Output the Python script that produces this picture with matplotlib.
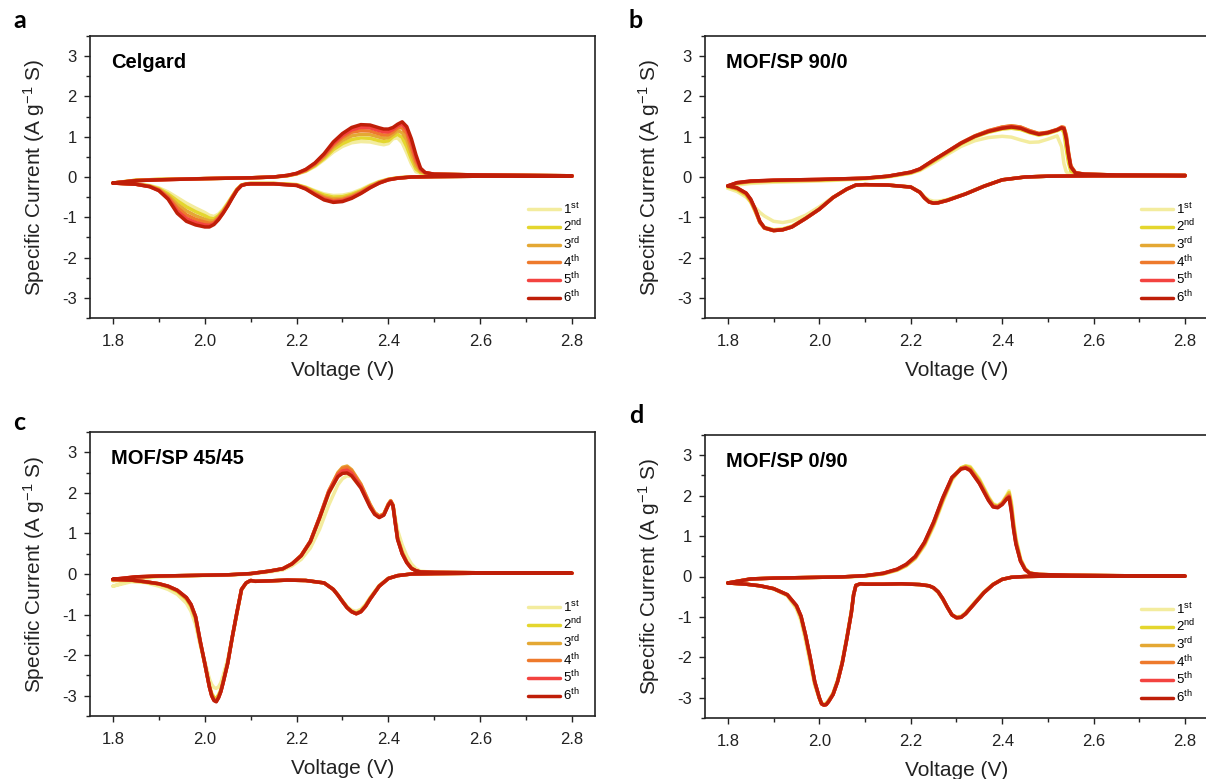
import matplotlib
matplotlib.use("Agg")
import matplotlib.pyplot as plt
from matplotlib.ticker import MultipleLocator, FixedLocator

plt.rcParams['font.family'] = ['Liberation Sans', 'DejaVu Sans']
plt.rcParams['mathtext.fontset'] = 'custom'
plt.rcParams['mathtext.rm'] = 'Liberation Sans'
plt.rcParams['mathtext.it'] = 'Liberation Sans:italic'
plt.rcParams['mathtext.bf'] = 'Liberation Sans:bold'
plt.rcParams['axes.unicode_minus'] = False

# ---------------- data ----------------
CYCLE_LABELS = ['1$^{\\mathregular{st}}$', '2$^{\\mathregular{nd}}$', '3$^{\\mathregular{rd}}$',
                '4$^{\\mathregular{th}}$', '5$^{\\mathregular{th}}$', '6$^{\\mathregular{th}}$']
CYCLE_COLORS = ['#F3EC9E', '#E4D62E', '#E4A834', '#EE7A2C', '#F34340', '#BF1E08']
PANEL_TITLES = ['Celgard', 'MOF/SP 90/0', 'MOF/SP 45/45', 'MOF/SP 0/90']
PANEL_LETTERS = ['a', 'b', 'c', 'd']
X_TICKS = [1.8, 2.0, 2.2, 2.4, 2.6, 2.8]
Y_TICKS = [-3, -2, -1, 0, 1, 2, 3]

# Panel a (Celgard)
A_V_UP = [1.80, 1.85, 1.90, 2.00, 2.10, 2.15, 2.18, 2.20, 2.22, 2.24, 2.26, 2.28, 2.30, 2.32, 2.34, 2.36,
          2.38, 2.39, 2.40, 2.41, 2.42, 2.43, 2.44, 2.45, 2.46, 2.47, 2.48, 2.50, 2.60, 2.70, 2.80]
A_UP_1 = [-0.15, -0.08, -0.06, -0.04, -0.02, 0.00, 0.03, 0.07, 0.14, 0.26, 0.43, 0.62, 0.76, 0.85, 0.88, 0.87,
          0.82, 0.80, 0.83, 0.95, 0.97, 0.85, 0.60, 0.33, 0.13, 0.09, 0.08, 0.07, 0.05, 0.04, 0.03]
A_UP_2 = [-0.15, -0.08, -0.06, -0.04, -0.02, 0.00, 0.03, 0.08, 0.15, 0.28, 0.46, 0.68, 0.83, 0.93, 0.97, 0.96,
          0.90, 0.88, 0.90, 1.00, 1.06, 0.98, 0.75, 0.45, 0.20, 0.11, 0.09, 0.07, 0.05, 0.04, 0.03]
A_UP_3 = [-0.15, -0.08, -0.06, -0.04, -0.02, 0.00, 0.03, 0.08, 0.16, 0.30, 0.50, 0.74, 0.91, 1.02, 1.06, 1.05,
          0.99, 0.96, 0.98, 1.06, 1.15, 1.10, 0.92, 0.58, 0.28, 0.14, 0.10, 0.07, 0.05, 0.04, 0.03]
A_UP_4 = [-0.15, -0.09, -0.07, -0.04, -0.02, 0.00, 0.04, 0.08, 0.17, 0.32, 0.53, 0.79, 0.98, 1.11, 1.15, 1.14,
          1.07, 1.04, 1.05, 1.12, 1.22, 1.22, 1.07, 0.72, 0.38, 0.17, 0.10, 0.07, 0.05, 0.04, 0.03]
A_UP_5 = [-0.15, -0.09, -0.07, -0.04, -0.02, 0.00, 0.04, 0.09, 0.18, 0.34, 0.56, 0.83, 1.03, 1.17, 1.23, 1.22,
          1.15, 1.12, 1.12, 1.18, 1.27, 1.31, 1.18, 0.85, 0.47, 0.20, 0.11, 0.07, 0.05, 0.04, 0.03]
A_UP_6 = [-0.15, -0.09, -0.07, -0.04, -0.02, 0.00, 0.04, 0.09, 0.19, 0.35, 0.58, 0.87, 1.08, 1.23, 1.30, 1.29,
          1.22, 1.19, 1.19, 1.23, 1.31, 1.37, 1.25, 0.95, 0.55, 0.22, 0.11, 0.07, 0.05, 0.04, 0.03]
A_V_DN = [2.80, 2.60, 2.50, 2.45, 2.42, 2.40, 2.38, 2.36, 2.34, 2.32, 2.30, 2.28, 2.26, 2.24, 2.22, 2.20,
          2.15, 2.10, 2.09, 2.08, 2.07, 2.06, 2.05, 2.04, 2.03, 2.02, 2.01, 2.00, 1.98, 1.96, 1.94, 1.92,
          1.90, 1.88, 1.85, 1.80]
A_DN_1 = [0.02, 0.02, 0.01, 0.00, -0.02, -0.05, -0.11, -0.20, -0.31, -0.40, -0.45, -0.46, -0.42, -0.34, -0.25, -0.19,
          -0.16, -0.16, -0.17, -0.20, -0.30, -0.47, -0.64, -0.80, -0.92, -0.98, -0.95, -0.88, -0.77, -0.65, -0.51, -0.37,
          -0.27, -0.21, -0.17, -0.15]
A_DN_2 = [0.02, 0.02, 0.01, 0.00, -0.02, -0.06, -0.12, -0.22, -0.34, -0.43, -0.49, -0.50, -0.45, -0.36, -0.26, -0.19,
          -0.16, -0.16, -0.17, -0.20, -0.31, -0.48, -0.66, -0.83, -0.96, -1.04, -1.02, -0.96, -0.86, -0.74, -0.59, -0.42,
          -0.29, -0.22, -0.17, -0.15]
A_DN_3 = [0.02, 0.02, 0.01, 0.00, -0.02, -0.06, -0.13, -0.23, -0.36, -0.46, -0.53, -0.54, -0.49, -0.39, -0.27, -0.20,
          -0.16, -0.16, -0.17, -0.20, -0.31, -0.49, -0.68, -0.85, -0.99, -1.09, -1.09, -1.05, -0.96, -0.84, -0.68, -0.46,
          -0.31, -0.23, -0.18, -0.15]
A_DN_4 = [0.02, 0.02, 0.01, 0.00, -0.03, -0.06, -0.14, -0.25, -0.38, -0.49, -0.56, -0.58, -0.52, -0.41, -0.28, -0.20,
          -0.17, -0.17, -0.18, -0.21, -0.32, -0.50, -0.70, -0.87, -1.02, -1.13, -1.15, -1.12, -1.05, -0.94, -0.76, -0.50,
          -0.32, -0.23, -0.18, -0.15]
A_DN_5 = [0.02, 0.02, 0.01, 0.00, -0.03, -0.07, -0.15, -0.26, -0.40, -0.51, -0.59, -0.61, -0.55, -0.43, -0.29, -0.21,
          -0.17, -0.17, -0.18, -0.21, -0.33, -0.51, -0.71, -0.89, -1.04, -1.16, -1.20, -1.19, -1.13, -1.03, -0.84, -0.53,
          -0.33, -0.24, -0.18, -0.15]
A_DN_6 = [0.02, 0.02, 0.01, 0.00, -0.03, -0.07, -0.15, -0.27, -0.41, -0.53, -0.61, -0.63, -0.57, -0.44, -0.30, -0.21,
          -0.17, -0.17, -0.18, -0.21, -0.33, -0.52, -0.72, -0.90, -1.06, -1.18, -1.24, -1.24, -1.19, -1.10, -0.90, -0.55,
          -0.34, -0.24, -0.18, -0.15]

# Panel b (MOF/SP 90/0)
B_V_UP = [1.80, 1.82, 1.85, 1.90, 2.00, 2.10, 2.15, 2.20, 2.22, 2.25, 2.28, 2.31, 2.34, 2.37, 2.40,
          2.42, 2.44, 2.46, 2.48, 2.50, 2.52, 2.53, 2.535, 2.54, 2.545, 2.55, 2.56, 2.58, 2.65, 2.80]
B_UP_1 = [-0.28, -0.20, -0.16, -0.13, -0.10, -0.05, 0.00, 0.09, 0.16, 0.35, 0.56, 0.76, 0.90, 0.98, 1.01,
          0.99, 0.92, 0.86, 0.87, 0.94, 1.02, 0.75, 0.33, 0.13, 0.09, 0.08, 0.07, 0.06, 0.05, 0.04]
B_UP_2 = [-0.24, -0.16, -0.12, -0.10, -0.08, -0.04, 0.01, 0.10, 0.18, 0.39, 0.60, 0.82, 0.99, 1.11, 1.19,
          1.21, 1.18, 1.10, 1.04, 1.08, 1.15, 1.20, 1.10, 0.70, 0.35, 0.15, 0.09, 0.07, 0.05, 0.04]
B_UP_3 = [-0.23, -0.15, -0.11, -0.09, -0.07, -0.03, 0.02, 0.11, 0.19, 0.41, 0.62, 0.84, 1.02, 1.15, 1.24,
          1.27, 1.24, 1.15, 1.08, 1.11, 1.18, 1.24, 1.23, 1.05, 0.62, 0.28, 0.11, 0.07, 0.05, 0.04]
B_UP_4 = [-0.22, -0.15, -0.11, -0.08, -0.06, -0.03, 0.02, 0.12, 0.20, 0.42, 0.63, 0.85, 1.02, 1.15, 1.24,
          1.27, 1.24, 1.15, 1.08, 1.11, 1.18, 1.24, 1.23, 1.02, 0.60, 0.27, 0.11, 0.07, 0.05, 0.04]
B_UP_5 = [-0.22, -0.14, -0.10, -0.08, -0.06, -0.03, 0.02, 0.12, 0.20, 0.42, 0.63, 0.84, 1.01, 1.14, 1.22,
          1.25, 1.22, 1.13, 1.07, 1.10, 1.17, 1.23, 1.21, 0.98, 0.57, 0.26, 0.10, 0.07, 0.05, 0.04]
B_UP_6 = [-0.22, -0.14, -0.10, -0.08, -0.06, -0.03, 0.02, 0.12, 0.20, 0.42, 0.63, 0.84, 1.01, 1.13, 1.21,
          1.24, 1.21, 1.12, 1.06, 1.10, 1.17, 1.22, 1.20, 0.95, 0.55, 0.25, 0.10, 0.07, 0.05, 0.04]
B_V_DN = [2.80, 2.60, 2.50, 2.45, 2.40, 2.36, 2.32, 2.28, 2.26, 2.25, 2.24, 2.23, 2.22, 2.20, 2.15, 2.10,
          2.08, 2.06, 2.03, 2.00, 1.97, 1.94, 1.92, 1.90, 1.88, 1.87, 1.86, 1.85, 1.84, 1.82, 1.80]
B_DN_1 = [0.03, 0.03, 0.02, 0.00, -0.07, -0.22, -0.41, -0.56, -0.60, -0.60, -0.57, -0.49, -0.37, -0.24, -0.20, -0.19,
          -0.21, -0.31, -0.50, -0.74, -0.95, -1.09, -1.13, -1.10, -0.97, -0.88, -0.76, -0.62, -0.50, -0.36, -0.28]
B_DN_2 = [0.03, 0.03, 0.02, 0.00, -0.07, -0.23, -0.42, -0.57, -0.63, -0.64, -0.61, -0.51, -0.38, -0.25, -0.20, -0.19,
          -0.20, -0.30, -0.51, -0.79, -1.02, -1.22, -1.29, -1.31, -1.25, -1.12, -0.86, -0.62, -0.45, -0.31, -0.24]
B_DN_3 = [0.03, 0.03, 0.02, 0.00, -0.07, -0.23, -0.42, -0.58, -0.64, -0.65, -0.62, -0.52, -0.38, -0.25, -0.20, -0.19,
          -0.20, -0.30, -0.51, -0.80, -1.03, -1.24, -1.31, -1.33, -1.27, -1.13, -0.84, -0.58, -0.42, -0.29, -0.23]
B_DN_4 = [0.03, 0.03, 0.02, 0.00, -0.07, -0.23, -0.42, -0.58, -0.64, -0.65, -0.62, -0.52, -0.38, -0.25, -0.20, -0.19,
          -0.20, -0.30, -0.51, -0.80, -1.03, -1.24, -1.31, -1.33, -1.27, -1.12, -0.82, -0.57, -0.41, -0.28, -0.22]
B_DN_5 = [0.03, 0.03, 0.02, 0.00, -0.07, -0.23, -0.42, -0.58, -0.64, -0.65, -0.62, -0.52, -0.38, -0.25, -0.20, -0.19,
          -0.20, -0.30, -0.51, -0.80, -1.03, -1.24, -1.31, -1.33, -1.26, -1.11, -0.81, -0.56, -0.40, -0.27, -0.22]
B_DN_6 = [0.03, 0.03, 0.02, 0.00, -0.07, -0.23, -0.42, -0.58, -0.64, -0.65, -0.62, -0.52, -0.38, -0.25, -0.20, -0.19,
          -0.20, -0.30, -0.51, -0.80, -1.03, -1.24, -1.31, -1.33, -1.26, -1.10, -0.80, -0.55, -0.40, -0.27, -0.22]

# Panel c (MOF/SP 45/45)
C_V_UP = [1.80, 1.85, 1.90, 2.00, 2.05, 2.10, 2.14, 2.17, 2.19, 2.21, 2.23, 2.25, 2.27, 2.29, 2.30, 2.31,
          2.32, 2.34, 2.36, 2.37, 2.38, 2.39, 2.40, 2.405, 2.41, 2.415, 2.42, 2.43, 2.44, 2.45, 2.46, 2.47,
          2.50, 2.60, 2.80]
C_UP_1 = [-0.30, -0.12, -0.07, -0.04, -0.03, 0.00, 0.05, 0.10, 0.20, 0.36, 0.64, 1.10, 1.70, 2.20, 2.35, 2.42,
          2.40, 2.14, 1.68, 1.50, 1.43, 1.48, 1.72, 1.80, 1.70, 1.38, 1.08, 0.72, 0.45, 0.25, 0.13, 0.07,
          0.04, 0.03, 0.02]
C_UP_2 = [-0.16, -0.08, -0.05, -0.03, -0.02, 0.01, 0.07, 0.13, 0.25, 0.45, 0.79, 1.35, 1.98, 2.42, 2.55, 2.58,
          2.50, 2.18, 1.70, 1.50, 1.42, 1.47, 1.72, 1.80, 1.70, 1.30, 0.90, 0.55, 0.30, 0.15, 0.08, 0.05,
          0.04, 0.03, 0.02]
C_UP_3 = [-0.15, -0.08, -0.05, -0.03, -0.02, 0.01, 0.07, 0.13, 0.25, 0.46, 0.81, 1.40, 2.05, 2.50, 2.63, 2.66,
          2.57, 2.22, 1.72, 1.52, 1.43, 1.48, 1.73, 1.81, 1.70, 1.28, 0.88, 0.52, 0.29, 0.14, 0.08, 0.05,
          0.04, 0.03, 0.02]
C_UP_4 = [-0.14, -0.07, -0.05, -0.03, -0.02, 0.01, 0.07, 0.13, 0.25, 0.46, 0.81, 1.40, 2.04, 2.48, 2.60, 2.63,
          2.54, 2.20, 1.70, 1.50, 1.42, 1.47, 1.72, 1.80, 1.69, 1.27, 0.87, 0.51, 0.29, 0.14, 0.08, 0.05,
          0.04, 0.03, 0.02]
C_UP_5 = [-0.13, -0.07, -0.05, -0.03, -0.02, 0.01, 0.07, 0.13, 0.25, 0.45, 0.80, 1.39, 2.02, 2.44, 2.54, 2.56,
          2.48, 2.16, 1.67, 1.48, 1.40, 1.46, 1.71, 1.79, 1.68, 1.26, 0.86, 0.50, 0.28, 0.14, 0.08, 0.05,
          0.04, 0.03, 0.02]
C_UP_6 = [-0.13, -0.07, -0.05, -0.03, -0.02, 0.01, 0.07, 0.13, 0.25, 0.45, 0.80, 1.38, 2.00, 2.40, 2.48, 2.49,
          2.42, 2.12, 1.65, 1.47, 1.39, 1.45, 1.70, 1.78, 1.68, 1.25, 0.85, 0.50, 0.28, 0.14, 0.08, 0.05,
          0.04, 0.03, 0.02]
C_V_DN = [2.80, 2.60, 2.50, 2.45, 2.42, 2.40, 2.38, 2.36, 2.35, 2.34, 2.33, 2.32, 2.31, 2.30, 2.29, 2.28,
          2.26, 2.22, 2.18, 2.14, 2.11, 2.10, 2.09, 2.08, 2.07, 2.06, 2.05, 2.04, 2.035, 2.03, 2.025, 2.02,
          2.015, 2.01, 2.00, 1.99, 1.98, 1.97, 1.96, 1.94, 1.92, 1.90, 1.87, 1.84, 1.80]
C_DN_1 = [0.02, 0.02, 0.01, 0.00, -0.04, -0.10, -0.28, -0.58, -0.75, -0.87, -0.92, -0.89, -0.80, -0.66, -0.51, -0.38,
          -0.22, -0.16, -0.15, -0.17, -0.18, -0.16, -0.22, -0.40, -0.98, -1.55, -2.10, -2.50, -2.68, -2.78, -2.82, -2.80,
          -2.72, -2.58, -2.15, -1.75, -1.25, -0.92, -0.72, -0.50, -0.38, -0.30, -0.21, -0.19, -0.30]
C_DN_2 = [0.02, 0.02, 0.01, 0.00, -0.04, -0.11, -0.29, -0.60, -0.78, -0.91, -0.96, -0.92, -0.82, -0.67, -0.52, -0.38,
          -0.22, -0.16, -0.15, -0.17, -0.18, -0.16, -0.22, -0.39, -0.96, -1.56, -2.18, -2.64, -2.85, -2.98, -3.06, -3.04,
          -2.94, -2.75, -2.22, -1.70, -1.12, -0.80, -0.62, -0.43, -0.32, -0.25, -0.20, -0.16, -0.16]
C_DN_3 = [0.02, 0.02, 0.01, 0.00, -0.04, -0.11, -0.30, -0.61, -0.79, -0.92, -0.97, -0.93, -0.83, -0.68, -0.52, -0.38,
          -0.22, -0.16, -0.15, -0.17, -0.18, -0.16, -0.22, -0.38, -0.95, -1.55, -2.19, -2.66, -2.88, -3.02, -3.11, -3.09,
          -2.98, -2.77, -2.21, -1.67, -1.08, -0.77, -0.60, -0.41, -0.31, -0.24, -0.19, -0.15, -0.15]
C_DN_4 = [0.02, 0.02, 0.01, 0.00, -0.04, -0.11, -0.30, -0.62, -0.80, -0.93, -0.98, -0.93, -0.83, -0.68, -0.52, -0.38,
          -0.22, -0.16, -0.15, -0.17, -0.18, -0.16, -0.22, -0.38, -0.95, -1.55, -2.20, -2.67, -2.89, -3.04, -3.13, -3.10,
          -2.99, -2.78, -2.21, -1.66, -1.06, -0.76, -0.59, -0.40, -0.30, -0.24, -0.19, -0.15, -0.14]
C_DN_5 = [0.02, 0.02, 0.01, 0.00, -0.04, -0.11, -0.30, -0.62, -0.80, -0.93, -0.98, -0.93, -0.83, -0.68, -0.52, -0.38,
          -0.22, -0.16, -0.15, -0.17, -0.18, -0.16, -0.22, -0.38, -0.95, -1.55, -2.20, -2.68, -2.90, -3.05, -3.14, -3.11,
          -3.00, -2.78, -2.20, -1.65, -1.05, -0.75, -0.58, -0.40, -0.30, -0.24, -0.19, -0.15, -0.13]
C_DN_6 = [0.02, 0.02, 0.01, 0.00, -0.04, -0.11, -0.30, -0.62, -0.80, -0.93, -0.98, -0.93, -0.83, -0.68, -0.52, -0.38,
          -0.22, -0.16, -0.15, -0.17, -0.18, -0.16, -0.22, -0.38, -0.95, -1.55, -2.20, -2.68, -2.90, -3.05, -3.15, -3.12,
          -3.00, -2.78, -2.20, -1.65, -1.05, -0.75, -0.58, -0.40, -0.30, -0.24, -0.19, -0.15, -0.13]

# Panel d (MOF/SP 0/90)
D_V_UP = [1.80, 1.85, 1.90, 2.00, 2.05, 2.10, 2.14, 2.17, 2.19, 2.21, 2.23, 2.25, 2.27, 2.29, 2.31, 2.32,
          2.33, 2.35, 2.37, 2.38, 2.39, 2.40, 2.41, 2.415, 2.42, 2.425, 2.43, 2.44, 2.45, 2.46, 2.48, 2.55,
          2.65, 2.80]
D_UP_1 = [-0.16, -0.06, -0.04, -0.02, -0.01, 0.01, 0.06, 0.15, 0.26, 0.44, 0.76, 1.24, 1.84, 2.38, 2.68, 2.74,
          2.72, 2.42, 1.98, 1.80, 1.76, 1.84, 2.02, 2.12, 1.85, 1.35, 0.95, 0.45, 0.20, 0.09, 0.05, 0.03,
          0.02, 0.01]
D_UP_2 = [-0.16, -0.06, -0.04, -0.02, -0.01, 0.01, 0.07, 0.16, 0.27, 0.46, 0.79, 1.28, 1.88, 2.41, 2.69, 2.73,
          2.70, 2.39, 1.95, 1.78, 1.74, 1.82, 1.99, 2.08, 1.78, 1.28, 0.90, 0.42, 0.19, 0.09, 0.05, 0.03,
          0.02, 0.01]
D_UP_3 = [-0.16, -0.06, -0.04, -0.02, -0.01, 0.02, 0.07, 0.17, 0.28, 0.47, 0.81, 1.30, 1.90, 2.43, 2.68, 2.71,
          2.67, 2.36, 1.93, 1.76, 1.73, 1.81, 1.97, 2.04, 1.72, 1.23, 0.86, 0.40, 0.18, 0.08, 0.05, 0.03,
          0.02, 0.01]
D_UP_4 = [-0.16, -0.06, -0.04, -0.02, -0.01, 0.02, 0.08, 0.17, 0.29, 0.48, 0.83, 1.32, 1.92, 2.44, 2.67, 2.70,
          2.65, 2.33, 1.91, 1.74, 1.72, 1.80, 1.95, 2.00, 1.67, 1.20, 0.83, 0.39, 0.18, 0.08, 0.05, 0.03,
          0.02, 0.01]
D_UP_5 = [-0.16, -0.06, -0.04, -0.02, -0.01, 0.02, 0.08, 0.18, 0.30, 0.49, 0.84, 1.34, 1.94, 2.45, 2.66, 2.69,
          2.63, 2.31, 1.89, 1.73, 1.71, 1.79, 1.93, 1.98, 1.63, 1.17, 0.81, 0.38, 0.17, 0.08, 0.05, 0.03,
          0.02, 0.01]
D_UP_6 = [-0.16, -0.06, -0.04, -0.02, -0.01, 0.02, 0.08, 0.18, 0.30, 0.50, 0.85, 1.35, 1.95, 2.45, 2.66, 2.68,
          2.62, 2.30, 1.88, 1.72, 1.70, 1.78, 1.92, 1.96, 1.60, 1.15, 0.80, 0.38, 0.17, 0.08, 0.05, 0.03,
          0.02, 0.01]
D_V_DN = [2.80, 2.60, 2.50, 2.45, 2.42, 2.40, 2.38, 2.36, 2.34, 2.32, 2.31, 2.30, 2.29, 2.28, 2.27, 2.26,
          2.25, 2.24, 2.22, 2.18, 2.14, 2.10, 2.09, 2.08, 2.075, 2.07, 2.06, 2.05, 2.04, 2.03, 2.02, 2.015,
          2.01, 2.005, 2.00, 1.99, 1.98, 1.97, 1.96, 1.95, 1.93, 1.90, 1.87, 1.84, 1.80]
D_DN_1 = [0.01, 0.01, 0.01, 0.00, -0.02, -0.07, -0.19, -0.38, -0.63, -0.89, -0.98, -1.00, -0.94, -0.77, -0.57, -0.40,
          -0.29, -0.23, -0.20, -0.18, -0.19, -0.19, -0.18, -0.22, -0.43, -0.85, -1.50, -2.10, -2.55, -2.88, -3.06, -3.13,
          -3.15, -3.14, -3.02, -2.70, -2.15, -1.60, -1.10, -0.80, -0.48, -0.31, -0.23, -0.19, -0.16]
D_DN_2 = [0.01, 0.01, 0.01, 0.00, -0.02, -0.07, -0.19, -0.39, -0.65, -0.91, -1.00, -1.01, -0.95, -0.76, -0.56, -0.39,
          -0.28, -0.23, -0.20, -0.18, -0.19, -0.19, -0.18, -0.22, -0.44, -0.88, -1.53, -2.13, -2.58, -2.90, -3.08, -3.15,
          -3.17, -3.15, -3.01, -2.64, -2.06, -1.50, -1.02, -0.75, -0.46, -0.30, -0.23, -0.19, -0.16]
D_DN_3 = [0.01, 0.01, 0.01, 0.00, -0.02, -0.07, -0.20, -0.40, -0.66, -0.92, -1.01, -1.02, -0.95, -0.76, -0.55, -0.38,
          -0.28, -0.23, -0.20, -0.18, -0.19, -0.19, -0.18, -0.22, -0.45, -0.89, -1.54, -2.14, -2.59, -2.91, -3.09, -3.16,
          -3.18, -3.15, -3.00, -2.62, -2.03, -1.47, -1.00, -0.73, -0.45, -0.30, -0.23, -0.19, -0.16]
D_DN_4 = [0.01, 0.01, 0.01, 0.00, -0.02, -0.07, -0.20, -0.40, -0.66, -0.92, -1.01, -1.02, -0.95, -0.76, -0.55, -0.38,
          -0.28, -0.23, -0.20, -0.18, -0.19, -0.19, -0.18, -0.22, -0.45, -0.90, -1.55, -2.15, -2.60, -2.92, -3.10, -3.17,
          -3.18, -3.15, -3.00, -2.61, -2.01, -1.46, -0.99, -0.72, -0.45, -0.30, -0.23, -0.19, -0.16]
D_DN_5 = [0.01, 0.01, 0.01, 0.00, -0.02, -0.07, -0.20, -0.40, -0.66, -0.92, -1.01, -1.02, -0.95, -0.76, -0.55, -0.38,
          -0.28, -0.23, -0.20, -0.18, -0.19, -0.19, -0.18, -0.22, -0.45, -0.90, -1.55, -2.15, -2.60, -2.92, -3.10, -3.17,
          -3.18, -3.15, -3.00, -2.60, -2.00, -1.45, -0.98, -0.72, -0.45, -0.30, -0.23, -0.19, -0.16]
D_DN_6 = [0.01, 0.01, 0.01, 0.00, -0.02, -0.07, -0.20, -0.40, -0.66, -0.92, -1.01, -1.02, -0.95, -0.76, -0.55, -0.38,
          -0.28, -0.23, -0.20, -0.18, -0.19, -0.19, -0.18, -0.22, -0.45, -0.90, -1.55, -2.15, -2.60, -2.92, -3.10, -3.17,
          -3.18, -3.15, -3.00, -2.60, -2.00, -1.45, -0.98, -0.72, -0.45, -0.30, -0.23, -0.19, -0.16]

PANELS = [
    (A_V_UP, [A_UP_1, A_UP_2, A_UP_3, A_UP_4, A_UP_5, A_UP_6], A_V_DN, [A_DN_1, A_DN_2, A_DN_3, A_DN_4, A_DN_5, A_DN_6]),
    (B_V_UP, [B_UP_1, B_UP_2, B_UP_3, B_UP_4, B_UP_5, B_UP_6], B_V_DN, [B_DN_1, B_DN_2, B_DN_3, B_DN_4, B_DN_5, B_DN_6]),
    (C_V_UP, [C_UP_1, C_UP_2, C_UP_3, C_UP_4, C_UP_5, C_UP_6], C_V_DN, [C_DN_1, C_DN_2, C_DN_3, C_DN_4, C_DN_5, C_DN_6]),
    (D_V_UP, [D_UP_1, D_UP_2, D_UP_3, D_UP_4, D_UP_5, D_UP_6], D_V_DN, [D_DN_1, D_DN_2, D_DN_3, D_DN_4, D_DN_5, D_DN_6]),
]

# ---------------- layout (pixel boxes: left, top, right, bottom) ----------------
W, H = 1206, 779
BOXES = [(90, 36, 595, 318), (705, 36, 1208, 318), (90, 432, 595, 716), (705, 435, 1208, 718)]
LETTER_POS = [(13, 28), (629, 28), (13, 430), (629, 423)]

fig = plt.figure(figsize=(W / 100, H / 100), dpi=100)
INK = '#222222'

for i, (box, (vup, ups, vdn, dns)) in enumerate(zip(BOXES, PANELS)):
    l, t, r, b = box
    ax = fig.add_axes([l / W, 1 - b / H, (r - l) / W, (b - t) / H])
    handles = []
    for k in range(6):
        x = list(vup) + list(vdn)
        y = list(ups[k]) + list(dns[k])
        ln, = ax.plot(x, y, color=CYCLE_COLORS[k], lw=2.5, solid_joinstyle='round',
                      solid_capstyle='round', zorder=2 + k, label=CYCLE_LABELS[k])
        handles.append(ln)
    ax.set_xlim(1.75, 2.85)
    ax.set_ylim(-3.5, 3.5)
    ax.xaxis.set_major_locator(FixedLocator(X_TICKS))
    ax.set_xticklabels([f'{v:.1f}' for v in X_TICKS])
    ax.xaxis.set_minor_locator(MultipleLocator(0.1))
    ax.yaxis.set_major_locator(FixedLocator(Y_TICKS))
    ax.set_yticklabels([str(v) for v in Y_TICKS])
    ax.yaxis.set_minor_locator(MultipleLocator(0.5))
    ax.tick_params(which='both', direction='out', top=False, right=False, colors=INK,
                   labelsize=12, width=1.0)
    ax.tick_params(axis='x', which='both', pad=7)
    ax.tick_params(axis='y', which='both', pad=5)
    ax.tick_params(which='major', length=4.5)
    ax.tick_params(which='minor', length=2.8)
    for s in ax.spines.values():
        s.set_linewidth(1.2)
        s.set_color(INK)
    ax.set_xlabel('Voltage (V)', fontsize=15, color=INK, labelpad=9)
    ax.set_ylabel('Specific Current (A g$^{\\mathregular{-1}}$ S)', fontsize=15, color=INK, labelpad=11)
    ax.text(0.041, 0.905, PANEL_TITLES[i], transform=ax.transAxes, fontsize=14.5,
            fontweight='bold', va='center', ha='left', color='black')
    ax.legend(handles=handles, loc='lower right', bbox_to_anchor=(0.975, 0.045),
              frameon=False, fontsize=9.5, handlelength=2.45, handletextpad=0.25,
              labelspacing=0.08, borderaxespad=0, borderpad=0)
    lx, ly = LETTER_POS[i]
    fig.text(lx / W, 1 - ly / H, PANEL_LETTERS[i], fontsize=18, fontweight='bold',
             family=['Lato', 'DejaVu Sans'], va='baseline', ha='left', color='black')

fig.savefig('out.png', dpi=100)
